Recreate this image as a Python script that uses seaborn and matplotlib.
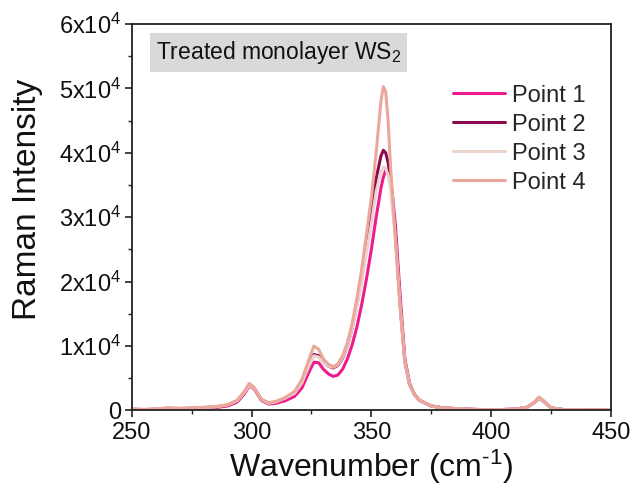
import numpy as np
import pandas as pd
import matplotlib
matplotlib.use("Agg")
import matplotlib.pyplot as plt
import seaborn as sns
from matplotlib.ticker import MultipleLocator, FixedLocator, FixedFormatter

wavenumber = [250, 255, 260, 265, 270, 275, 280, 285, 290, 294, 297, 299, 301, 304, 307,
              310, 314, 318, 321, 324, 326, 328, 330, 332, 334, 336, 338, 340, 342, 344,
              346, 348, 350, 352, 354, 355, 356, 357, 358, 360, 362, 364, 366, 368, 370,
              375, 380, 390, 400, 410, 415, 418, 420, 422, 425, 430, 440, 450]

point1 = [150, 100, 150, 300, 250, 300, 350, 450, 700, 1300, 2600, 3800, 3400, 1600, 1000,
          1100, 1500, 2200, 3500, 6000, 7500, 7400, 6400, 5700, 5300, 5500, 6400, 8000, 10200, 13000,
          16500, 20500, 25000, 30000, 34500, 36200, 37300, 37500, 36500, 29000, 18000, 8000, 4200, 2500, 1600,
          700, 400, 200, 100, 200, 500, 1200, 1900, 1400, 400, 150, 100, 100]

point2 = [200, 150, 200, 350, 300, 350, 450, 550, 850, 1500, 2800, 3900, 3500, 1700, 1100,
          1300, 1900, 2800, 4400, 7200, 8700, 8500, 7400, 6900, 6600, 7000, 8100, 10000, 12800, 16500,
          20500, 25500, 30500, 36000, 39500, 40400, 40000, 38500, 36000, 27500, 16500, 7600, 4000, 2500, 1600,
          700, 400, 200, 100, 200, 500, 1200, 1900, 1400, 400, 150, 100, 100]

point3 = [200, 150, 200, 350, 300, 350, 450, 550, 850, 1500, 2800, 3900, 3500, 1700, 1100,
          1300, 1900, 2700, 4300, 7000, 8500, 8300, 7300, 6900, 6700, 7100, 8200, 10000, 12700, 16200,
          20000, 24500, 29000, 34000, 37000, 37800, 37600, 36500, 34500, 27000, 16500, 7600, 4000, 2500, 1600,
          700, 400, 200, 100, 200, 500, 1200, 1900, 1400, 400, 150, 100, 100]

point4 = [200, 150, 250, 400, 350, 400, 500, 600, 900, 1600, 3000, 4200, 3600, 1800, 1200,
          1400, 2000, 3000, 4800, 8000, 10000, 9500, 8000, 7200, 6800, 7200, 8500, 10500, 13500, 17500,
          22000, 27500, 33000, 40000, 48000, 50300, 49500, 45000, 38000, 27000, 16000, 7500, 4000, 2500, 1600,
          700, 400, 200, 100, 200, 500, 1300, 2100, 1500, 400, 150, 100, 100]

series_names = ["Point 1", "Point 2", "Point 3", "Point 4"]
series_values = [point1, point2, point3, point4]
colors = ["#EE1B8E", "#8C0A4F", "#EBD4CD", "#EBA79B"]

y_ticks = [0, 10000, 20000, 30000, 40000, 50000, 60000]
y_tick_labels = ["0", "1x10$^4$", "2x10$^4$", "3x10$^4$", "4x10$^4$", "5x10$^4$", "6x10$^4$"]
x_ticks = [250, 300, 350, 400, 450]

rows = []
for name, vals in zip(series_names, series_values):
    for w, v in zip(wavenumber, vals):
        rows.append({"Wavenumber": w, "Intensity": v, "Series": name})
df = pd.DataFrame(rows)

sns.set_theme(style="ticks")
plt.rcParams["font.family"] = ["Liberation Sans", "DejaVu Sans"]
plt.rcParams["mathtext.fontset"] = "custom"
plt.rcParams["mathtext.rm"] = "Liberation Sans"
plt.rcParams["mathtext.it"] = "Liberation Sans:italic"
plt.rcParams["mathtext.bf"] = "Liberation Sans:bold"

fig = plt.figure(figsize=(6.31, 4.91), dpi=100)
ax = fig.add_axes([0.209, 0.164, 0.759, 0.787])

sns.lineplot(data=df, x="Wavenumber", y="Intensity", hue="Series",
             hue_order=series_names, palette=colors, linewidth=2.2, ax=ax, sort=False)

ax.set_xlim(250, 450)
ax.set_ylim(0, 60000)
ax.xaxis.set_major_locator(FixedLocator(x_ticks))
ax.xaxis.set_minor_locator(MultipleLocator(25))
ax.yaxis.set_major_locator(FixedLocator(y_ticks))
ax.yaxis.set_major_formatter(FixedFormatter(y_tick_labels))
ax.yaxis.set_minor_locator(MultipleLocator(5000))

ax.tick_params(axis="both", which="major", direction="out", length=5, width=1.2,
               labelsize=17, color="#222222", labelcolor="#111111", pad=3)
ax.tick_params(axis="both", which="minor", direction="out", length=3, width=1.0, color="#222222")
for s in ax.spines.values():
    s.set_linewidth(1.3)
    s.set_color("#222222")

ax.set_xlabel("Wavenumber (cm$^{\\text{-}1}$)", fontsize=23, color="#111111", labelpad=3)
ax.set_ylabel("Raman Intensity", fontsize=24, color="#111111")
ax.yaxis.set_label_coords(-0.186, 0.547)

ax.text(0.05, 0.962, "Treated monolayer WS$_2$", transform=ax.transAxes, fontsize=16.5,
        ha="left", va="top", color="#111111",
        bbox=dict(boxstyle="square,pad=0.27", facecolor="#D9D9D9", edgecolor="none"))

leg = ax.legend(loc="upper left", bbox_to_anchor=(0.65, 0.868), frameon=False,
                fontsize=17, handlelength=2.2, handletextpad=0.3, labelspacing=0.3,
                borderaxespad=0)
for line in leg.get_lines():
    line.set_linewidth(2.2)

fig.savefig("out.png", dpi=100)
